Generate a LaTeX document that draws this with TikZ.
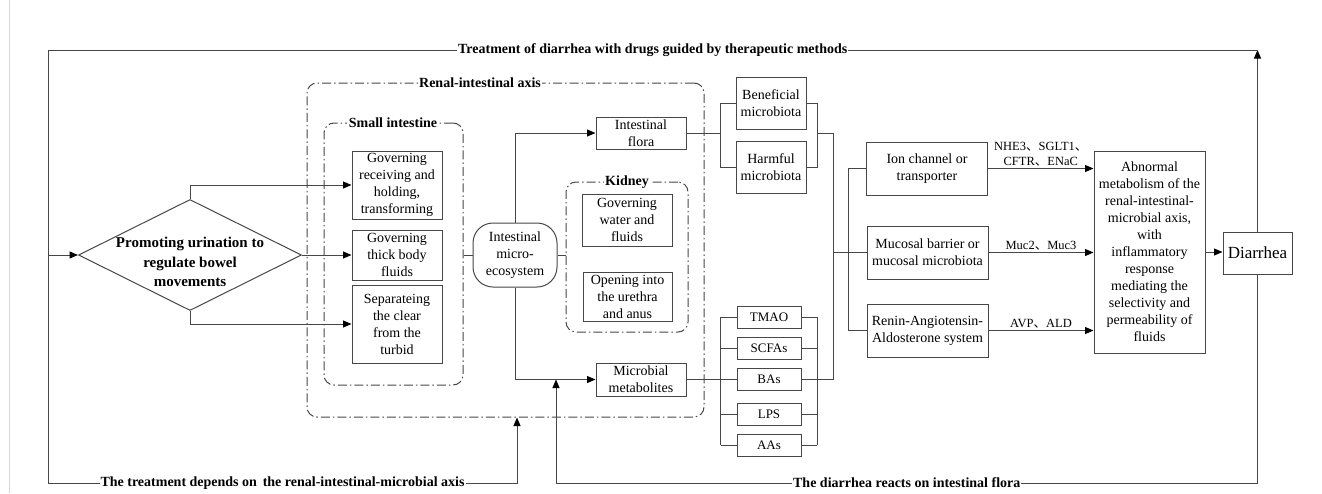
\documentclass[tikz,border=0pt]{standalone}
\usepackage{fontspec}
\setmainfont{Liberation Serif}
\newfontfamily\cjk{Noto Sans CJK SC}
\usepackage{tikz}
\usetikzlibrary{arrows.meta,shapes.geometric,calc}
\newcommand{\linecol}{black!72}
\newcommand{\lw}{1pt}
\newcommand{\boxfont}{\fontsize{14}{17}\selectfont}
\newcommand{\dun}{{\cjk 、}}

\begin{document}
\begin{tikzpicture}[x=1pt,y=-1pt,
  box/.style={draw=\linecol, line width=\lw, inner sep=0pt, align=center, font=\boxfont},
  chem/.style={box, minimum width=64pt, minimum height=22pt, font=\fontsize{13}{15}\selectfont},
  decision/.style={draw=\linecol, line width=\lw, diamond, inner sep=0pt},
  dialabel/.style={align=center, yshift=-7pt, font=\bfseries\fontsize{15}{19.5}\selectfont},
  group/.style={draw=\linecol, line width=\lw, inner sep=0pt, rounded corners=10pt, dash pattern=on 9pt off 3pt on 1.5pt off 3pt},
  grouplabel/.style={fill=white, inner sep=1.5pt, font=\bfseries\fontsize{14}{16}\selectfont},
  looplabel/.style={fill=white, inner sep=1pt, font=\bfseries\fontsize{14}{16}\selectfont},
  cue/.style={align=center, inner sep=1.5pt, font=\fontsize{12.5}{15}\selectfont},
  link/.style={draw=\linecol, line width=\lw},
  flow/.style={link, -{Triangle[length=8.5pt,width=7pt,color=black]}}]
\useasboundingbox (0,0) rectangle (1322,493);
\draw[black!15, line width=1pt] (9,0) -- (9,493);
%groups
\node[group] (renal) at (505.5, 250) [minimum width=397pt, minimum height=334pt] {};
\node[group] (small) at (393.5, 254) [minimum width=139pt, minimum height=262pt] {};
\node[group] (kidney) at (627, 257) [minimum width=122pt, minimum height=150pt] {};
\node[grouplabel] (renallbl) at (480, 83) {Renal-intestinal axis};
\node[grouplabel] (smalllbl) at (393, 123) {Small intestine};
\node[grouplabel] (kidneylbl) at (627, 182) {Kidney};
%left
\node[decision] (dia) at (190, 255) [minimum width=223pt, minimum height=111pt,
  label={[dialabel]center:{Promoting urination to\\regulate bowel\\movements}}] {};
\node[box] (recv) at (397, 185) [minimum width=90pt, minimum height=68pt] {Governing\\receiving and\\holding,\\transforming};
\node[box] (thick) at (397, 255) [minimum width=90pt, minimum height=50pt] {Governing\\thick body\\fluids};
\node[box] (sep) at (397, 324) [minimum width=90pt, minimum height=78pt] {Separateing\\the clear\\from the\\turbid};
\node[box, rounded corners=20pt] (micro) at (515, 255) [minimum width=84pt, minimum height=64pt] {Intestinal\\micro-\\ecosystem};
\node[box] (flora) at (641, 133) [minimum width=90pt, minimum height=32pt] {Intestinal\\flora};
\node[box] (metab) at (641, 379.5) [minimum width=90pt, minimum height=33pt] {Microbial\\metabolites};
\node[box] (water) at (627, 220) [minimum width=90pt, minimum height=52pt] {Governing\\water and\\fluids};
\node[box] (open) at (627.5, 296.5) [minimum width=89pt, minimum height=49pt] {Opening into\\the urethra\\and anus};
%middle
\node[box] (good) at (771, 103) [minimum width=70pt, minimum height=52pt] {Beneficial\\microbiota};
\node[box] (bad) at (771, 167) [minimum width=70pt, minimum height=52pt] {Harmful\\microbiota};
\node[chem] (tmao) at (769, 317) {TMAO};
\node[chem] (scfa) at (769, 348) {SCFAs};
\node[chem] (bas) at (769, 379.5) {BAs};
\node[chem] (lps) at (769, 414) {LPS};
\node[chem] (aas) at (769, 445) {AAs};
\node[box] (ion) at (927, 168.5) [minimum width=121pt, minimum height=53pt] {Ion channel or\\transporter};
\node[box] (mucosal) at (927.5, 252.5) [minimum width=121pt, minimum height=53pt] {Mucosal barrier or\\mucosal microbiota};
\node[box] (renin) at (927.5, 330.5) [minimum width=121pt, minimum height=53pt] {Renin-Angiotensin-\\Aldosterone system};
%right
\node[box] (abn) at (1149.5, 252) [minimum width=111pt, minimum height=202pt] {Abnormal\\metabolism of the\\renal-intestinal-\\microbial axis,\\with\\inflammatory\\response\\mediating the\\selectivity and\\permeability of\\fluids};
\node[box, font=\fontsize{17}{20}\selectfont] (diar) at (1257.5, 253) [minimum width=69pt, minimum height=42pt] {Diarrhea};
%turns
\coordinate (tl) at (48, 50);
\coordinate (bl) at (48, 483);
\coordinate (tr) at (diar.north |- tl);
\coordinate (br) at (diar.south |- bl);
\coordinate (fbx) at (517, 0);
\coordinate (fbx2) at (556, 0);
\coordinate (lbx) at (720.5, 0);
\coordinate (rbx) at (817, 0);
\coordinate (spine) at (833, 0);
\coordinate (fork) at (848, 0);
%loops
\draw[flow] (diar.north) -- (tr);
\draw[link] (tr) -- node[looplabel] (toplbl) {Treatment of diarrhea with drugs guided by therapeutic methods} (tl) -- (bl);
\draw[flow] (tl |- dia.west) -- (dia.west);
\draw[flow] (bl) -- node[looplabel] (botlbl) {The treatment depends on\, the renal-intestinal-microbial axis} (bl -| fbx) -- (renal.south -| fbx);
\draw[link] (diar.south) -- (br);
\draw[flow] (br) -- node[looplabel] (reactlbl) {The diarrhea reacts on intestinal flora} (br -| fbx2) -- (metab.west -| fbx2);
%left links
\draw[flow] (dia.north) |- (recv.west);
\draw[flow] (dia.east) -- (thick.west);
\draw[flow] (dia.south) |- (sep.west);
\draw[link] (micro.west -| small.east) -- (micro.west);
\draw[link] (micro.east) -- (micro.east -| kidney.west);
\draw[flow] (micro.north) |- (flora.west);
\draw[flow] (micro.south) |- (metab.west);
%brackets
\draw[link] (flora.east) -- (flora.east -| lbx);
\draw[link] (good.west) -| (lbx |- flora.east) |- (bad.west);
\draw[link] (good.east) -| (rbx |- flora.east) |- (bad.east);
\draw[link] (metab.east) -- (metab.east -| lbx);
\foreach \c in {tmao,scfa,bas,lps,aas}
{
\draw[link] (\c.west) -- (\c.west -| lbx);
\draw[link] (\c.east) -- (\c.east -| rbx);
}
\draw[link] (tmao.west -| lbx) -- (aas.west -| lbx);
\draw[link] (tmao.east -| rbx) -- (aas.east -| rbx);
\draw[link] (rbx |- flora.east) -- (spine |- flora.east) -- (spine |- bas.east) -- (bas.east -| rbx);
\draw[link] (spine |- mucosal.west) -- (mucosal.west);
\draw[link] (ion.west) -- (ion.west -| fork) |- (renin.west);
%right links
\draw[flow] (ion.east) -- node[cue, above] (ioncue) {NHE3\dun SGLT1\dun\\CFTR\dun ENaC} (ion.east -| abn.west);
\draw[flow] (mucosal.east) -- node[cue, above] (muccue) {Muc2\dun Muc3} (mucosal.east -| abn.west);
\draw[flow] (renin.east) -- node[cue, above] (renincue) {AVP\dun ALD} (renin.east -| abn.west);
\draw[flow] (abn.east) -- (abn.east -| diar.west);
\end{tikzpicture}
\end{document}
